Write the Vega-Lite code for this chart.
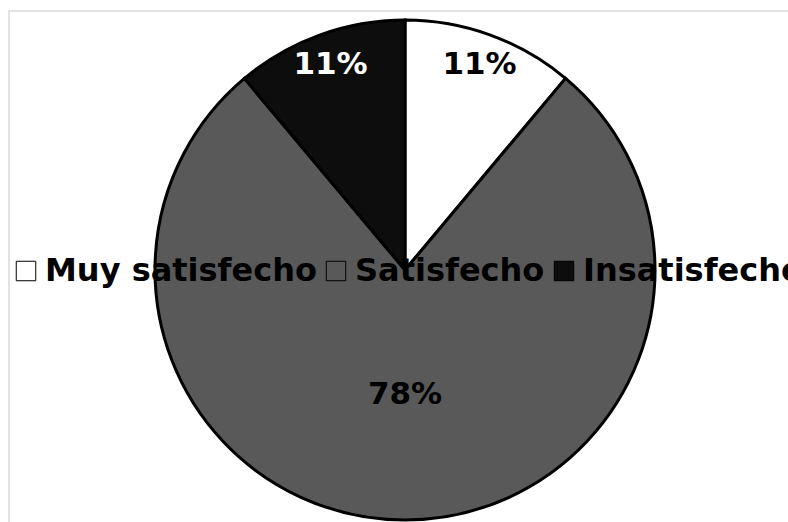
{
  "$schema": "https://vega.github.io/schema/vega-lite/v6.json",
  "autosize": {"type": "none"},
  "padding": {"left": 9, "top": 11, "right": 0, "bottom": 0},
  "width": 792,
  "height": 518,
  "background": "white",
  "view": {"stroke": "#d9d9d9", "strokeWidth": 1.5, "fill": "white"},
  "config": {
    "font": "DejaVu Sans"
  },
  "data": {
    "values": [
      {"categoria": "Muy satisfecho", "valor": 11.1, "orden": 1, "etiqueta": "11%"},
      {"categoria": "Satisfecho", "valor": 77.8, "orden": 2, "etiqueta": "78%"},
      {"categoria": "Insatisfecho", "valor": 11.1, "orden": 3, "etiqueta": "11%"}
    ]
  },
  "encoding": {
    "theta": {"field": "valor", "type": "quantitative", "stack": true},
    "order": {"field": "orden", "type": "quantitative"}
  },
  "layer": [
    {
      "mark": {"type": "arc", "outerRadius": 250, "stroke": "black", "strokeWidth": 3},
      "encoding": {
        "color": {
          "field": "categoria",
          "type": "nominal",
          "sort": ["Muy satisfecho", "Satisfecho", "Insatisfecho"],
          "scale": {"domain": ["Muy satisfecho", "Satisfecho", "Insatisfecho"], "range": ["#ffffff", "#595959", "#0d0d0d"]},
          "legend": {
            "title": null,
            "orient": "none",
            "direction": "horizontal",
            "legendX": 1,
            "legendY": 244,
            "padding": 0,
            "symbolType": "square",
            "symbolSize": 380,
            "symbolStrokeColor": "black",
            "symbolStrokeWidth": 1,
            "symbolOpacity": 1,
            "labelFontSize": 32,
            "labelFontWeight": "bold",
            "labelColor": "black",
            "labelFont": "DejaVu Sans",
            "labelLimit": 600,
            "labelOffset": 3,
            "columnPadding": 3
          }
        }
      }
    },
    {
      "mark": {"type": "text", "radius": 218, "fontSize": 31, "fontWeight": "bold", "font": "DejaVu Sans", "baseline": "middle", "align": "center"},
      "encoding": {
        "text": {"condition": {"test": "datum.valor < 50", "field": "etiqueta"}, "value": ""},
        "color": {"condition": {"test": "datum.categoria === 'Insatisfecho'", "value": "#ffffff"}, "value": "#000000"}
      }
    },
    {
      "mark": {"type": "text", "radius": 125, "fontSize": 31, "fontWeight": "bold", "font": "DejaVu Sans", "baseline": "middle", "align": "center"},
      "encoding": {
        "text": {"condition": {"test": "datum.valor >= 50", "field": "etiqueta"}, "value": ""},
        "color": {"value": "#000000"}
      }
    }
  ]
}
